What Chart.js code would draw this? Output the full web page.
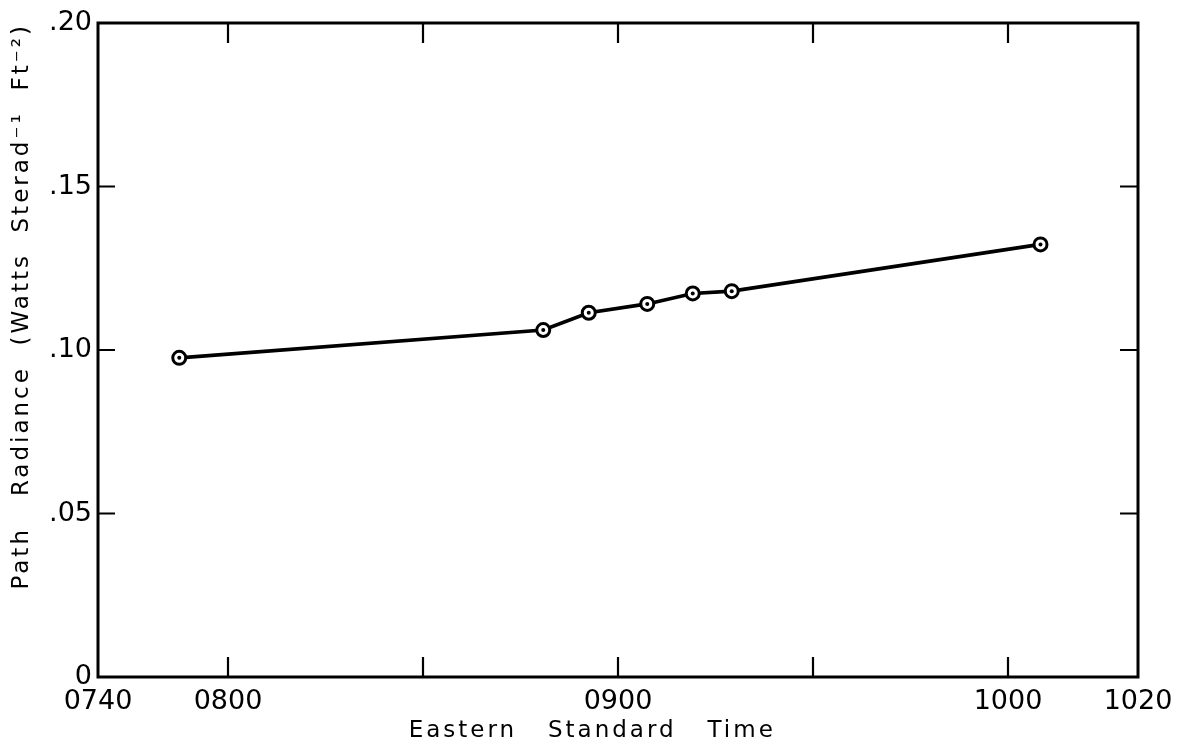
<!DOCTYPE html>
<html>
<head>
<meta charset="utf-8">
<script src="https://cdn.jsdelivr.net/npm/chart.js@4.4.1/dist/chart.umd.min.js"></script>
<style>
  html, body { margin: 0; padding: 0; background: #fff; }
  #wrap { width: 1177px; height: 748px; position: relative; }
</style>
</head>
<body>
<div id="wrap"><canvas id="c"></canvas></div>
<script>
// Time in minutes after midnight (0740 = 460, 1020 = 620)
const timeMinutes   = [472.5, 528.5, 535.5, 544.5, 551.5, 557.5, 605];
const pathRadiance  = [0.0976, 0.1061, 0.1114, 0.1141, 0.1173, 0.1180, 0.1323];

const xLabelValues  = [460, 480, 540, 600, 620];
const xLabelTexts   = ['0740', '0800', '0900', '1000', '1020'];
const xMarkValues   = [480, 510, 540, 570, 600];
const yTickValues   = [0, 0.05, 0.10, 0.15, 0.20];
const yTickTexts    = ['0', '.05', '.10', '.15', '.20'];
const yMarkValues   = [0.05, 0.10, 0.15];

const xTitle = 'Eastern   Standard   Time     ';
const yTitle = 'Path   Radiance  (Watts  Sterad\u207B\u00B9  Ft\u207B\u00B2)';

const points = timeMinutes.map((t, i) => ({ x: t, y: pathRadiance[i] }));

const FONT = "'DejaVu Sans', sans-serif";

const framePlugin = {
  id: 'frame',
  afterUpdate(chart) {
    Object.values(chart.scales).forEach(s => {
      if (!s._titlePatched) {
        const orig = s.drawTitle;
        s.drawTitle = function () {
          const ctx = this.ctx;
          ctx.save();
          ctx.letterSpacing = '3px';
          orig.call(this);
          ctx.restore();
        };
        s._titlePatched = true;
      }
    });
  },
  beforeDatasetsDraw(chart) {
    const { ctx, chartArea: a, scales: { x, y } } = chart;
    ctx.save();
    ctx.strokeStyle = '#000';
    ctx.lineWidth = 3;
    ctx.strokeRect(a.left, a.top, a.right - a.left, a.bottom - a.top);
    ctx.lineWidth = 2.2;
    ctx.beginPath();
    xMarkValues.forEach(v => {
      const px = x.getPixelForValue(v);
      ctx.moveTo(px, a.bottom); ctx.lineTo(px, a.bottom - 20);
      ctx.moveTo(px, a.top); ctx.lineTo(px, a.top + 20);
    });
    yMarkValues.forEach(v => {
      const py = y.getPixelForValue(v);
      ctx.moveTo(a.left, py); ctx.lineTo(a.left + 17, py);
      ctx.moveTo(a.right, py); ctx.lineTo(a.right - 18, py);
    });
    ctx.stroke();
    ctx.restore();
  }
};

new Chart(document.getElementById('c'), {
  type: 'line',
  data: {
    datasets: [
      {
        data: points,
        order: 1,
        borderColor: '#000',
        borderWidth: 3.6,
        backgroundColor: '#fff',
        pointRadius: 6.5,
        pointBorderWidth: 3,
        pointBackgroundColor: '#fff',
        pointBorderColor: '#000',
        tension: 0,
        fill: false
      },
      {
        data: points,
        order: 0,
        showLine: false,
        pointRadius: 2,
        pointBorderWidth: 0,
        pointBackgroundColor: '#000',
        pointBorderColor: '#000'
      }
    ]
  },
  options: {
    responsive: true,
    maintainAspectRatio: false,
    animation: false,
    events: [],
    layout: { padding: { top: 23, right: 39, left: 0, bottom: 0 } },
    plugins: { legend: { display: false }, tooltip: { enabled: false } },
    scales: {
      x: {
        type: 'linear',
        min: 460,
        max: 620,
        afterBuildTicks(scale) {
          const vals = Array.from(new Set([...xLabelValues, ...xMarkValues])).sort((a, b) => a - b);
          scale.ticks = vals.map(v => ({ value: v }));
        },
        afterFit(scale) { scale.height = 71; scale.paddingLeft = 0; scale.paddingRight = 0; },
        grid: { display: false, drawTicks: false },
        border: { display: false },
        ticks: {
          autoSkip: false,
          maxRotation: 0,
          padding: 9,
          color: '#000',
          font: { family: FONT, size: 27 },
          callback(v) {
            const i = xLabelValues.indexOf(v);
            return i >= 0 ? xLabelTexts[i] : '';
          }
        },
        title: {
          display: true,
          text: xTitle,
          color: '#000',
          font: { family: FONT, size: 23 },
          padding: { top: 0, bottom: 3 }
        }
      },
      y: {
        type: 'linear',
        min: 0,
        max: 0.2,
        afterBuildTicks(scale) {
          scale.ticks = yTickValues.map(v => ({ value: v }));
        },
        afterFit(scale) { scale.width = 98; },
        grid: { display: false, drawTicks: false },
        border: { display: false },
        ticks: {
          padding: 6,
          color: '#000',
          font: { family: FONT, size: 27 },
          callback(v) {
            const i = yTickValues.findIndex(t => Math.abs(t - v) < 1e-9);
            return i >= 0 ? yTickTexts[i] : '';
          }
        },
        title: {
          display: true,
          text: yTitle,
          align: 'end',
          color: '#000',
          font: { family: FONT, size: 23 },
          padding: { top: 8, bottom: 0 }
        }
      }
    }
  },
  plugins: [framePlugin]
});
</script>
</body>
</html>
